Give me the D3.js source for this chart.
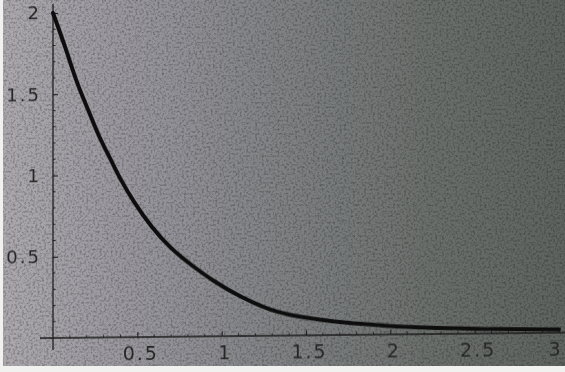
<!DOCTYPE html>
<html>
<head>
<meta charset="utf-8">
<script src="https://cdn.jsdelivr.net/npm/d3@7"></script>
<style>
  html, body { margin: 0; padding: 0; background: #f1f1ef; }
  svg { display: block; }
</style>
</head>
<body>
<svg id="chart" width="565" height="372"></svg>
<script>
// Decaying curve sampled along x
const xValues = [0, 0.08, 0.14, 0.21, 0.27, 0.34, 0.40, 0.48, 0.58, 0.70, 0.82, 0.95, 1.11, 1.29, 1.45, 1.65, 1.84, 2.05, 2.5, 3.0];
const yValues = [2.0, 1.77, 1.57, 1.40, 1.24, 1.10, 0.97, 0.83, 0.68, 0.54, 0.44, 0.34, 0.24, 0.155, 0.115, 0.085, 0.066, 0.045, 0.028, 0.02];

// Axis ticks and their labels
const xTicks = [0.5, 1, 1.5, 2, 2.5, 3];
const xTickLabels = ["0.5", "1", "1.5", "2", "2.5", "3"];
const yTicks = [0.5, 1, 1.5, 2];
const yTickLabels = ["0.5", "1", "1.5", "2"];

const W = 565, H = 372, paperH = 366;
const svg = d3.select("#chart");
const defs = svg.append("defs");

// Paper tone: light lavender grey on the left fading to dark grey on the right
const grad = defs.append("linearGradient").attr("id", "paper").attr("x1", 0).attr("x2", 1).attr("y1", 0).attr("y2", 0);
[[0, "#aca8ad"], [0.1, "#a3a0a6"], [0.3, "#929197"], [0.5, "#7f8183"], [0.75, "#6b6f6c"], [1, "#5e635f"]]
  .forEach(([o, c]) => grad.append("stop").attr("offset", o).attr("stop-color", c));

// Coarse grain over the paper
const grain = defs.append("filter").attr("id", "grain").attr("x", 0).attr("y", 0).attr("width", "100%").attr("height", "100%");
grain.append("feTurbulence").attr("type", "fractalNoise").attr("baseFrequency", 0.45).attr("numOctaves", 2).attr("seed", 7).attr("result", "n");
grain.append("feColorMatrix").attr("in", "n").attr("type", "matrix")
  .attr("values", "0 0 0 0 0  0 0 0 0 0  0 0 0 0 0  0 0 0 -2.2 1.25").attr("result", "a");
grain.append("feComposite").attr("in", "a").attr("in2", "SourceGraphic").attr("operator", "in");

const soft = defs.append("filter").attr("id", "soft");
soft.append("feGaussianBlur").attr("stdDeviation", 0.55);

svg.append("rect").attr("x", 3).attr("y", 0).attr("width", W - 3).attr("height", paperH).attr("fill", "url(#paper)");
svg.append("rect").attr("x", 3).attr("y", 0).attr("width", W - 3).attr("height", paperH)
  .attr("fill", "#000").attr("opacity", 0.3).attr("filter", "url(#grain)");

const x = d3.scaleLinear().domain([0, 3]).range([53, 559]);
const y = d3.scaleLinear().domain([0, 2]).range([338, 13]);

// Plot group, gently sheared like a scanned page
const g = svg.append("g")
  .attr("transform", `translate(${x(0)},${y(0)}) skewY(-0.6) translate(${-x(0)},${-y(0)})`)
  .attr("filter", "url(#soft)");

const ink = "#1c1c1c";
const labelColor = "#262626";
const font = "DejaVu Sans, sans-serif";

// x axis: inward ticks with minor ticks
const xAxis = d3.axisBottom(x)
  .tickValues(xTicks)
  .tickFormat((d, i) => xTickLabels[i])
  .tickSizeInner(-5).tickSizeOuter(0).tickPadding(10);
const xa = g.append("g").attr("transform", `translate(0,${y(0)})`).call(xAxis);
xa.select(".domain").remove();
g.append("line").attr("x1", 40).attr("x2", 565).attr("y1", y(0)).attr("y2", y(0))
  .attr("stroke", ink).attr("stroke-width", 1.3);
xa.selectAll(".tick line").attr("stroke", ink).attr("stroke-width", 1.1);
xa.selectAll(".tick text").attr("fill", labelColor).attr("font-size", 19).attr("font-family", font)
  .attr("letter-spacing", 2)
  .attr("dx", (d, i) => i === xTicks.length - 1 ? -4 : 3);
g.append("g").selectAll("line")
  .data(d3.range(0.1, 3.0001, 0.1).filter(v => Math.abs(v * 2 - Math.round(v * 2)) > 1e-6))
  .join("line")
  .attr("x1", d => x(d)).attr("x2", d => x(d))
  .attr("y1", y(0)).attr("y2", y(0) - 2.5)
  .attr("stroke", ink).attr("stroke-width", 0.9);

// y axis
const yAxis = d3.axisLeft(y)
  .tickValues(yTicks)
  .tickFormat((d, i) => yTickLabels[i])
  .tickSizeInner(-5).tickSizeOuter(0).tickPadding(12);
const ya = g.append("g").attr("transform", `translate(${x(0)},0)`).call(yAxis);
ya.select(".domain").remove();
g.append("line").attr("x1", x(0)).attr("x2", x(0)).attr("y1", 4).attr("y2", 350)
  .attr("stroke", ink).attr("stroke-width", 1.3);
ya.selectAll(".tick line").attr("stroke", ink).attr("stroke-width", 1.1);
ya.selectAll(".tick text").attr("fill", labelColor).attr("font-size", 18).attr("font-family", font)
  .attr("letter-spacing", 2);
g.append("g").selectAll("line")
  .data(d3.range(0.1, 2.0001, 0.1).filter(v => Math.abs(v * 2 - Math.round(v * 2)) > 1e-6))
  .join("line")
  .attr("x1", x(0)).attr("x2", x(0) + 2.5)
  .attr("y1", d => y(d)).attr("y2", d => y(d))
  .attr("stroke", ink).attr("stroke-width", 0.9);

// The curve, smoothed through the sampled points
const pts = xValues.map((v, i) => [v, yValues[i]]);
const line = d3.line().x(d => x(d[0])).y(d => y(d[1])).curve(d3.curveBasis);
g.append("path").datum(pts).attr("d", line)
  .attr("fill", "none").attr("stroke", "#111").attr("stroke-width", 4)
  .attr("stroke-linecap", "round").attr("stroke-linejoin", "round");
</script>
</body>
</html>
